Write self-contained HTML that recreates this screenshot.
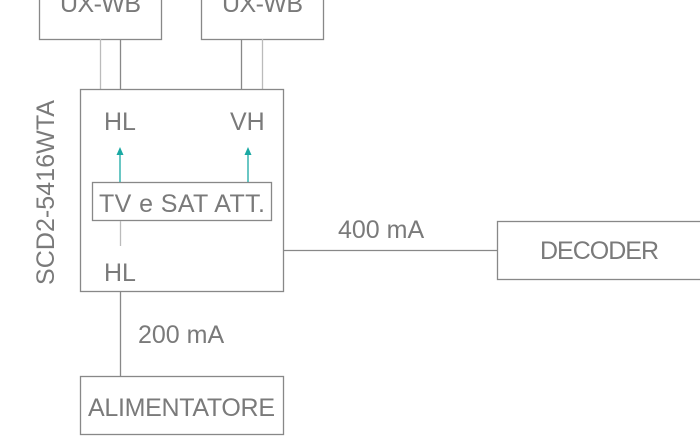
<!DOCTYPE html>
<html><head><meta charset="utf-8"><style>
html,body{margin:0;padding:0;background:#fff;}
svg{display:block}
text{font-family:"Liberation Sans",sans-serif;fill:#7a7a7a;font-size:25px}
</style></head><body>
<svg width="700" height="441" viewBox="0 0 700 441" xmlns="http://www.w3.org/2000/svg">
<g fill="none" stroke="#888" stroke-width="1.3">
<rect x="39.5" y="-20" width="122" height="59.5"/>
<rect x="201.5" y="-20" width="122" height="59.5"/>
<line x1="100.5" y1="39" x2="100.5" y2="89" stroke="#bbb"/>
<line x1="120.5" y1="39" x2="120.5" y2="89"/>
<line x1="241.5" y1="39" x2="241.5" y2="89"/>
<line x1="262.5" y1="39" x2="262.5" y2="89" stroke="#bbb"/>
<rect x="80.5" y="89.5" width="203" height="202"/>
<rect x="92.5" y="182.5" width="179" height="38"/>
<line x1="120.5" y1="221" x2="120.5" y2="246" stroke="#bbb"/>
<line x1="283" y1="250.5" x2="497" y2="250.5"/>
<rect x="497.5" y="221.5" width="220" height="58"/>
<line x1="120.5" y1="291" x2="120.5" y2="376"/>
<rect x="80.5" y="376.5" width="203" height="58"/>
</g>
<g stroke="#1aa9a3" stroke-width="1.3" fill="#1aa9a3">
<line x1="120" y1="182" x2="120" y2="152"/>
<polygon points="116.5,155 123.5,155 120,147" stroke="none"/>
<line x1="248" y1="182" x2="248" y2="152"/>
<polygon points="244.5,155 251.5,155 248,147" stroke="none"/>
</g>
<text x="60" y="12" textLength="81">UX-WB</text>
<text x="222" y="12" textLength="81">UX-WB</text>
<text x="104" y="130">HL</text>
<text x="230" y="130">VH</text>
<text x="99" y="212" textLength="166">TV e SAT ATT.</text>
<text x="104" y="281">HL</text>
<text x="338" y="238">400 mA</text>
<text x="540" y="259" textLength="119">DECODER</text>
<text x="138" y="343">200 mA</text>
<text x="88" y="416" textLength="187">ALIMENTATORE</text>
<text transform="translate(54,285) rotate(-90)" textLength="185">SCD2-5416WTA</text>
</svg>
</body></html>
